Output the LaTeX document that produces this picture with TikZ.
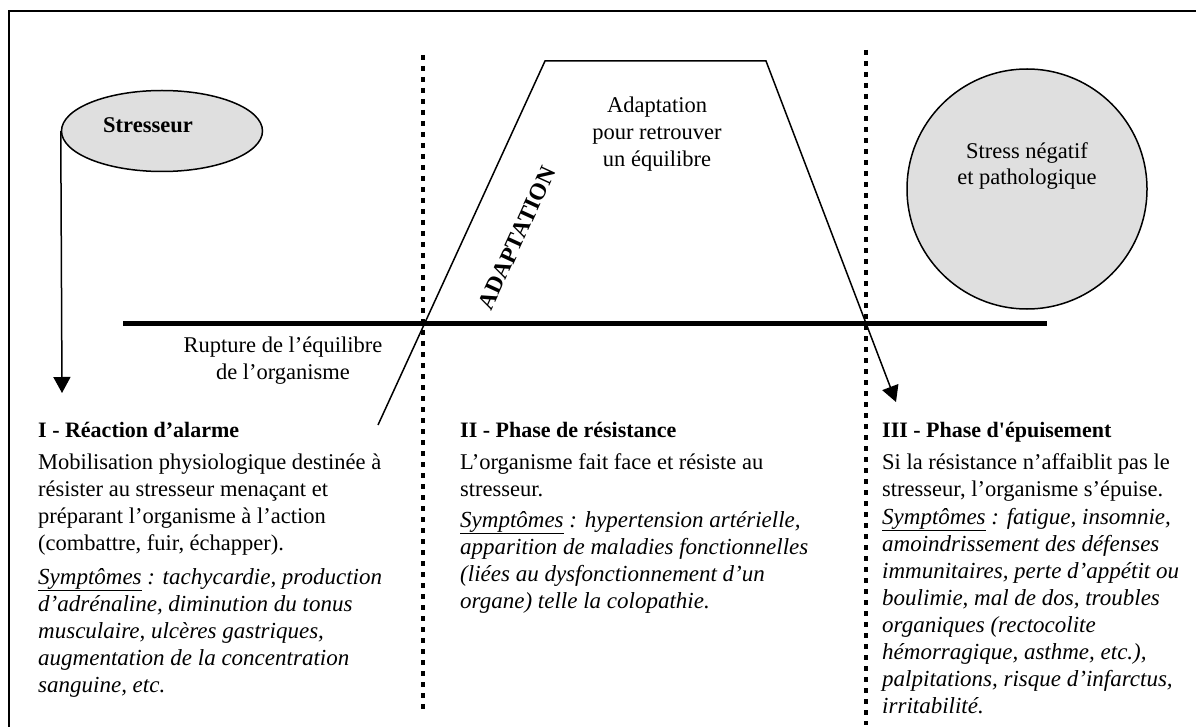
\documentclass[tikz,border=0pt]{standalone}
\usepackage{fontspec}
\setmainfont{Liberation Serif}
\usetikzlibrary{arrows.meta,shapes.geometric}
\begin{document}
\begin{tikzpicture}[x=1pt,y=-1pt,
  txt/.style={font=\fontsize{22.5}{27}\selectfont, inner sep=0pt, align=left, anchor=north west},
  ctxt/.style={font=\fontsize{22.5}{27}\selectfont, inner sep=0pt, align=center, anchor=north},
  ttl/.style={txt, font=\fontsize{22}{27}\selectfont\bfseries},
  sym/.style={txt, font=\fontsize{23}{27}\selectfont\itshape},
  shade/.style={draw=black, line width=1.5pt, fill=gray!25},
  thinline/.style={line width=1.5pt},
  arr/.style={thinline, -{Triangle[length=16pt,width=17pt]}},
  phase/.style={line width=4pt, dash pattern=on 5pt off 6pt},
  ground/.style={line width=5pt}]
\useasboundingbox (0,0) rectangle (1196,727);
% frame (top and left edges)
\draw[line width=2.5pt] (9,727) -- (9,11) -- (1196,11);

% stressor
\node[ellipse, shade, minimum width=201pt, minimum height=81pt, inner sep=0pt] (str) at (162,131) {};
\node[inner sep=0pt, anchor=base, font=\fontsize{22.5}{27}\selectfont\bfseries] (strt) at (148,133) {Stresseur};
\coordinate (a1) at (62,393);
\draw[arr] (str.west) -- (a1);

% negative stress circle
\node[circle, shade, minimum size=240pt, inner sep=0pt] (neg) at (1027,189) {};
\node[ctxt, font=\fontsize{22.5}{26}\selectfont] (negt) at (1027,140.5) {\strut Stress négatif\\et pathologique};

% phase separators
\coordinate (d1a) at (423,55);  \coordinate (d1b) at (423,712);
\coordinate (d2a) at (866,50);  \coordinate (d2b) at (866,725);
\draw[phase] (d1a) -- (d1b);
\draw[phase] (d2a) -- (d2b);

% equilibrium line
\coordinate (h0) at (123,323); \coordinate (h1) at (1047,323);
\draw[ground] (h0) -- (h1);

% adaptation curve
\coordinate (p0) at (378,425);
\coordinate (p1) at (545,61);
\coordinate (p2) at (766,61);
\coordinate (p3) at (896,402);
\draw[arr] (p0) -- (p1) -- (p2) -- (p3);

\node[inner sep=0pt, rotate=65.4, font=\fontsize{23.5}{27}\selectfont\bfseries] (adl) at (517,238) {ADAPTATION};
\node[ctxt] (adt) at (657,93.1) {\strut Adaptation\\pour retrouver\\un équilibre};
\node[ctxt] (rup) at (283,333.1) {\strut Rupture de l’équilibre\\de l’organisme};

% phase I
\node[ttl] (t1) at (38,418.1) {\strut I - Réaction d’alarme};
\node[txt] (b1) at (38,450.1) {\strut Mobilisation physiologique destinée à\\résister au stresseur menaçant et\\préparant l’organisme à l’action\\(combattre, fuir, échapper).};
\node[sym] (s1) at (38,565.1) {\strut\underline{Symptômes} : tachycardie, production\\d’adrénaline, diminution du tonus\\musculaire, ulcères gastriques,\\augmentation de la concentration\\sanguine, etc.};

% phase II
\node[ttl] (t2) at (460,418.1) {\strut II - Phase de résistance};
\node[txt] (b2) at (460,450.1) {\strut L’organisme fait face et résiste au\\stresseur.};
\node[sym] (s2) at (460,508.1) {\strut\underline{Symptômes} : hypertension artérielle,\\apparition de maladies fonctionnelles\\(liées au dysfonctionnement d’un\\organe) telle la colopathie.};

% phase III
\node[ttl] (t3) at (882,418.1) {\strut III - Phase d\textquotesingle épuisement};
\node[txt] (b3) at (882,450.1) {\strut Si la résistance n’affaiblit pas le\\stresseur, l’organisme s’épuise.};
\node[sym] (s3) at (882,505.1) {\strut\underline{Symptômes} : fatigue, insomnie,\\amoindrissement des défenses\\immunitaires, perte d’appétit ou\\boulimie, mal de dos, troubles\\organiques (rectocolite\\hémorragique, asthme, etc.),\\palpitations, risque d’infarctus,\\irritabilité.};
\end{tikzpicture}
\end{document}
